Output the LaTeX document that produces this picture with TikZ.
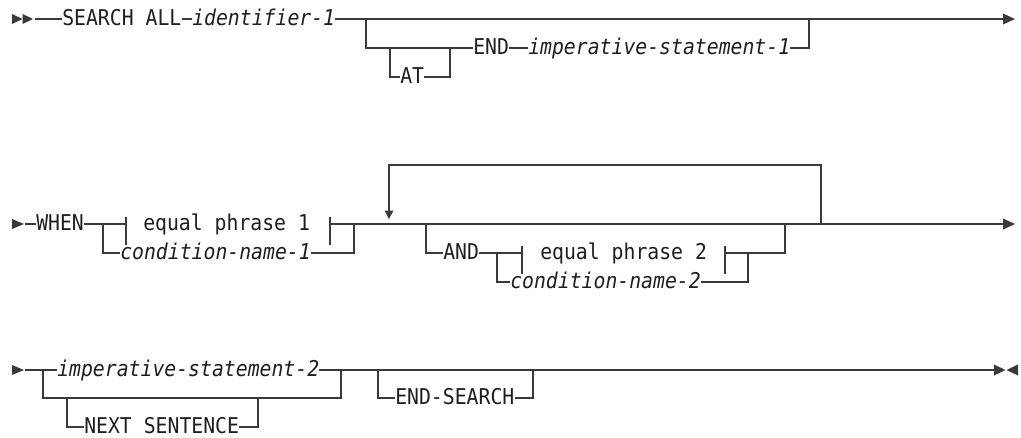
\documentclass[tikz,border=0pt]{standalone}
\usepackage{fontspec}
\newfontfamily\mono[FakeStretch=0.91]{DejaVu Sans Mono}
\definecolor{linec}{HTML}{3A3A3A}
\definecolor{txtc}{HTML}{1E1E1E}
\tikzset{
  ln/.style={draw=linec, line width=1.1pt},
  kw/.style={font=\mono\fontsize{16.3pt}{19pt}\selectfont, text=txtc, inner sep=0pt, anchor=west, text height=10.5pt, text depth=0.75pt},
  var/.style={kw, font=\mono\itshape\fontsize{16.3pt}{19pt}\selectfont},
  tip/.style={fill=linec, draw=none},
}
\begin{document}
\begin{tikzpicture}[x=0.75pt,y=-0.75pt]
\useasboundingbox (0,0) rectangle (1021,437);
% ---------- row 1 ----------
\coordinate (s1) at (35,19);
\node[kw] (sa) at (62,19) {SEARCH ALL};
\node[var] (id1) at (192,19) {identifier-1};
\coordinate (b1) at (366,19);
\coordinate (b2) at (809,19);
\coordinate (e1) at (1003,19);
\node[kw] (endk) at (473,48) {END};
\node[var] (imp1) at (528,48) {imperative-statement-1};
\coordinate (a1) at (390,48);
\coordinate (a2) at (450,48);
\node[kw] (at) at (400,77) {AT};
\fill[tip] (12,14) -- (22.5,19) -- (12,24) -- cycle;
\fill[tip] (22.5,14) -- (33,19) -- (22.5,24) -- cycle;
\draw[ln] (s1) -- (sa.west);
\draw[ln] (sa.east) -- (id1.west);
\draw[ln] (id1.east) -- (e1);
\fill[tip] (e1) ++(0,-5.5) -- ++(12,5.5) -- ++(-12,5.5) -- cycle;
\draw[ln] (b1) |- (endk.west);
\draw[ln] (endk.east) -- (imp1.west);
\draw[ln] (imp1.east) -| (b2);
\draw[ln] (a1) |- (at.west);
\draw[ln] (at.east) -| (a2);
% ---------- row 2 ----------
\fill[tip] (12,219) -- (24,224) -- (12,229) -- cycle;
\coordinate (s2) at (25,224);
\node[kw] (when) at (36,224) {WHEN};
\coordinate (c1) at (103,224);
\coordinate (t1) at (126,224);
\node[kw] (ep1) at (143,224) {equal phrase 1};
\coordinate (t2) at (330,224);
\coordinate (c2) at (354,224);
\node[var] (cn1) at (120,253) {condition-name-1};
\coordinate (e2) at (1003,224);
\draw[ln] (s2) -- (when.west);
\draw[ln] (when.east) -- (t1);
\draw[ln] (t1) ++(0,-7) -- ++(0,28);
\draw[ln] (t2) ++(0,-7) -- ++(0,28);
\draw[ln] (t2) -- (e2);
\draw[ln] (c1) |- (cn1.west);
\draw[ln] (cn1.east) -| (c2);
\fill[tip] (e2) ++(0,-5.5) -- ++(12,5.5) -- ++(-12,5.5) -- cycle;
% repeat loop
\coordinate (l1) at (821,224);
\coordinate (l2) at (389,210.5);
\draw[ln] (l1) -- ++(0,-59) -| (l2);
\fill[tip] (l2) ++(-4.5,0) -- ++(9,0) -- ++(-4.5,8.5) -- cycle;
% AND branch
\coordinate (d0) at (426,224);
\node[kw] (and) at (443,253) {AND};
\coordinate (d1) at (497,253);
\coordinate (t3) at (522,253);
\node[kw] (ep2) at (540,253) {equal phrase 2};
\coordinate (t4) at (725,253);
\coordinate (d2) at (748,253);
\coordinate (d3) at (785,224);
\node[var] (cn2) at (510,282) {condition-name-2};
\draw[ln] (d0) |- (and.west);
\draw[ln] (and.east) -- (t3);
\draw[ln] (t3) ++(0,-7) -- ++(0,28);
\draw[ln] (t4) ++(0,-7) -- ++(0,28);
\draw[ln] (t4) -| (d3);
\draw[ln] (d1) |- (cn2.west);
\draw[ln] (cn2.east) -| (d2);
% ---------- row 3 ----------
\fill[tip] (12,365) -- (24,370) -- (12,375) -- cycle;
\coordinate (s3) at (25,370);
\coordinate (f1) at (43,370);
\node[var] (imp2) at (57,370) {imperative-statement-2};
\coordinate (f2) at (341,370);
\coordinate (g1) at (67,398);
\coordinate (g2) at (258,398);
\node[kw] (ns) at (84,427) {NEXT SENTENCE};
\coordinate (h1) at (378,370);
\node[kw] (es) at (395,398) {END-SEARCH};
\coordinate (h2) at (533,370);
\coordinate (e3) at (994,370);
\draw[ln] (s3) -- (f1) -- (imp2.west);
\draw[ln] (imp2.east) -- (f2) -- (e3);
\draw[ln] (f1) |- (g1 -| f2) -- (f2);
\draw[ln] (g1) |- (ns.west);
\draw[ln] (ns.east) -| (g2);
\draw[ln] (h1) |- (es.west);
\draw[ln] (es.east) -| (h2);
\fill[tip] (e3) ++(0,-5.5) -- ++(11.5,5.5) -- ++(-11.5,5.5) -- cycle;
\fill[tip] (1018,364.5) -- (1006.5,370) -- (1018,375.5) -- cycle;
\end{tikzpicture}
\end{document}
